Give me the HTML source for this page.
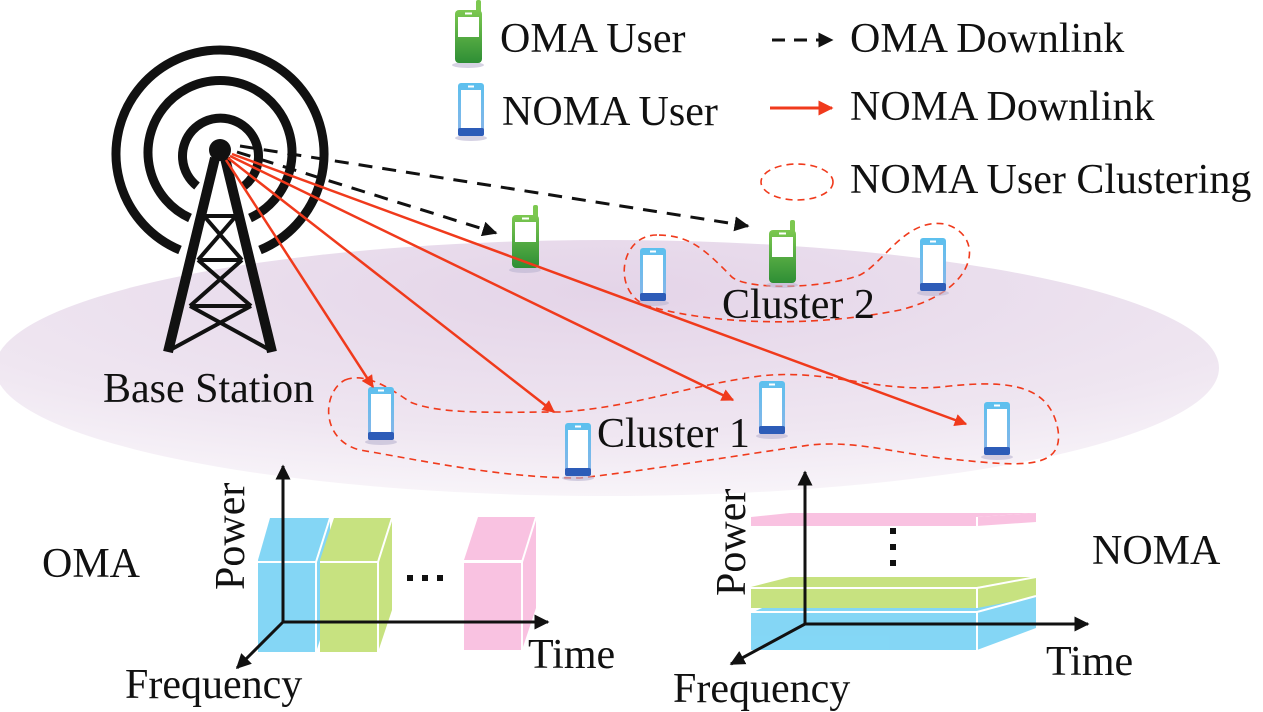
<!DOCTYPE html>
<html><head><meta charset="utf-8"><style>
html,body{margin:0;padding:0;background:#fff;}
svg{display:block;}
text{font-family:"Liberation Serif",serif;fill:#111;}
</style></head><body>
<svg width="1263" height="712" viewBox="0 0 1263 712" xmlns="http://www.w3.org/2000/svg">
<defs>
<radialGradient id="ell" cx="0.5" cy="0.2" r="0.8">
<stop offset="0" stop-color="#e4d4e8"/><stop offset="0.7" stop-color="#efe6f1"/><stop offset="1" stop-color="#f8f4f9"/>
</radialGradient>
<linearGradient id="gph" x1="0" y1="0" x2="0" y2="1"><stop offset="0" stop-color="#7cc850"/><stop offset="1" stop-color="#2e8e35"/></linearGradient>
<linearGradient id="bph" x1="0" y1="0" x2="0" y2="1"><stop offset="0" stop-color="#5cc0ee"/><stop offset="1" stop-color="#8ab4e8"/></linearGradient>
<g id="blue">
<ellipse cx="13" cy="55" rx="16" ry="3" fill="#bbb4d0" opacity="0.6"/>
<rect x="0" y="0" width="26" height="53" rx="3" fill="url(#bph)"/>
<rect x="3" y="7" width="20" height="38" fill="#fff"/>
<rect x="0" y="45" width="26" height="8" rx="2" fill="#2d5cb8"/>
<rect x="10" y="2.5" width="6" height="2" fill="#fff"/>
</g>
<g id="green">
<ellipse cx="13" cy="55" rx="16" ry="3" fill="#bbb4d0" opacity="0.6"/>
<rect x="21" y="-10" width="5" height="14" rx="2" fill="#7cc850"/>
<rect x="0" y="0" width="27" height="53" rx="4" fill="url(#gph)"/>
<rect x="3" y="7" width="21" height="20" fill="#fff"/>
<rect x="10" y="2.5" width="7" height="2" fill="#fff"/>
</g>
<marker id="ra" viewBox="0 0 10 10" refX="9" refY="5" markerWidth="5" markerHeight="5" orient="auto"><path d="M0,0L10,5L0,10z" fill="#f03a1c"/></marker>
<marker id="ka" viewBox="0 0 10 10" refX="9" refY="5" markerWidth="5" markerHeight="5" orient="auto"><path d="M0,0L10,5L0,10z" fill="#111"/></marker>
<marker id="ax" viewBox="0 0 10 10" refX="9" refY="5" markerWidth="5" markerHeight="5" orient="auto"><path d="M0,0L10,5L0,10z" fill="#111"/></marker>
</defs>

<ellipse cx="607" cy="368" rx="612" ry="128" fill="url(#ell)"/>

<!-- tower -->
<g fill="none" stroke="#111" stroke-width="9">
<path d="M197,186 A38,38 0 1 1 244,186"/>
<path d="M190,218 A72,72 0 1 1 250,218"/>
<path d="M180,250 A104,104 0 1 1 260,250"/>
</g>
<circle cx="220" cy="150" r="11" fill="#111"/>
<g stroke="#111" fill="none">
<path d="M215,158 L168,352 M225,158 L272,352" stroke-width="10"/>
<path d="M204,216H236 M198,260H242 M190,306H251 M204,216L242,260 M236,216L198,260 M198,260L251,306 M242,260L190,306 M190,306L270,350 M251,306L170,350" stroke-width="4"/>
</g>

<!-- dashed black -->
<g stroke="#111" stroke-width="3" stroke-dasharray="14,10" fill="none">
<line x1="237" y1="152" x2="496" y2="233" marker-end="url(#ka)"/>
<line x1="240" y1="146" x2="748" y2="226" marker-end="url(#ka)"/>
</g>

<!-- clusters -->
<g fill="none" stroke="#f03a1c" stroke-width="1.6" stroke-dasharray="7,5">
<path d="M657,235 C620,235 612,290 645,305 C700,322 800,330 900,310 C980,290 985,235 945,224 C905,218 885,262 860,275 C820,290 740,290 730,275 C705,250 690,235 657,235 Z"/>
<path d="M345,380 C365,372 390,388 410,402 C440,415 500,412 560,412 C630,408 690,385 760,376 C830,368 880,395 950,386 C1010,380 1050,385 1058,430 C1064,470 1020,466 960,460 C900,455 860,440 810,445 C740,455 650,470 580,478 C500,478 420,460 360,450 C320,440 322,392 345,380 Z"/>
</g>

<!-- phones -->
<use href="#green" x="455" y="10"/>
<use href="#blue" x="458" y="83"/>
<use href="#green" x="512" y="215"/>
<use href="#green" x="769" y="230"/>
<use href="#blue" x="640" y="248"/>
<use href="#blue" x="920" y="238"/>
<use href="#blue" x="368" y="387"/>
<use href="#blue" x="565" y="423"/>
<use href="#blue" x="759" y="381"/>
<use href="#blue" x="984" y="402"/>

<!-- red arrows -->
<g stroke="#f03a1c" stroke-width="2.5" fill="none" marker-end="url(#ra)">
<line x1="226" y1="160" x2="373" y2="387"/>
<line x1="228" y1="158" x2="554" y2="412"/>
<line x1="230" y1="156" x2="733" y2="400"/>
<line x1="232" y1="154" x2="966" y2="424"/>
</g>

<!-- legend -->
<line x1="772" y1="40" x2="832" y2="40" stroke="#111" stroke-width="3" stroke-dasharray="13,9" marker-end="url(#ka)"/>
<line x1="770" y1="108" x2="832" y2="108" stroke="#f03a1c" stroke-width="3" marker-end="url(#ra)"/>
<ellipse cx="797" cy="182" rx="36" ry="18" fill="none" stroke="#f03a1c" stroke-width="1.6" stroke-dasharray="7,5"/>
<g font-size="42">
<text x="500" y="52">OMA User</text>
<text x="502" y="125">NOMA User</text>
<text x="850" y="52">OMA Downlink</text>
<text x="850" y="120">NOMA Downlink</text>
<text x="850" y="193">NOMA User Clustering</text>
<text x="103" y="402">Base Station</text>
<text x="722" y="318">Cluster 2</text>
<text x="597" y="447">Cluster 1</text>
</g>

<!-- OMA chart -->
<g opacity="0.85">
<path d="M258,560 L270,518 L330,518 L316,560Z" fill="#6fd0f4"/>
<path d="M258,560 H316 V652 H258Z" fill="#6fd0f4"/>
<path d="M316,560 L330,518 V610 L316,652Z" fill="#6fd0f4"/>
<path d="M320,560 L334,518 L392,518 L378,560Z" fill="#bedd6a"/>
<path d="M320,560 H378 V652 H320Z" fill="#bedd6a"/>
<path d="M378,560 L392,518 V610 L378,652Z" fill="#bedd6a"/>
<path d="M464,560 L478,517 L536,517 L522,560Z" fill="#f9b8dc"/>
<path d="M464,563 H522 V650 H464Z" fill="#f9b8dc"/>
<path d="M522,560 L536,517 V608 L522,650Z" fill="#f9b8dc"/>
</g>
<g stroke="#fff" stroke-width="2" fill="none">
<path d="M258,562 H316 L330,518 M316,562 V652 M320,562 H378 L392,518 M378,562 V652 M464,562 H522 L536,517 M522,562 V650"/>
</g>
<g stroke="#111" stroke-width="3" fill="none" marker-end="url(#ax)">
<line x1="283" y1="622" x2="283" y2="466"/>
<line x1="283" y1="622" x2="548" y2="622"/>
<line x1="283" y1="622" x2="237" y2="668"/>
</g>
<rect x="407" y="575" width="6" height="6" fill="#111"/>
<rect x="422" y="575" width="6" height="6" fill="#111"/>
<rect x="437" y="575" width="6" height="6" fill="#111"/>
<g font-size="42">
<text x="42" y="577">OMA</text>
<text x="528" y="668">Time</text>
<text x="125" y="698">Frequency</text>
<text transform="translate(244,590) rotate(-90)">Power</text>
</g>

<!-- NOMA chart -->
<g opacity="0.85">
<path d="M751,613 L780,600 H1036 L977,613Z" fill="#6fd0f4"/>
<path d="M751,613 H977 V650 H751Z" fill="#6fd0f4"/>
<path d="M977,613 L1036,596 V628 L977,650Z" fill="#6fd0f4"/>
<path d="M751,587 L790,577 H1036 L977,587Z" fill="#bedd6a"/>
<path d="M751,587 H977 V608 H751Z" fill="#bedd6a"/>
<path d="M977,587 L1036,577 V597 L977,608Z" fill="#bedd6a"/>
<path d="M751,517 L790,513 H1036 L977,517Z" fill="#f9b8dc"/>
<path d="M751,517 H977 V526 H751Z" fill="#f9b8dc"/>
<path d="M977,517 L1036,513 V522 L977,526Z" fill="#f9b8dc"/>
</g>
<g stroke="#fff" stroke-width="2" fill="none">
<path d="M751,612 H977 L1036,596 M977,612 V650 M751,588 H977 L1036,577 M977,588 V608 M977,517 V526"/>
</g>
<g stroke="#111" stroke-width="3" fill="none" marker-end="url(#ax)">
<line x1="805" y1="624" x2="805" y2="472"/>
<line x1="805" y1="624" x2="1088" y2="624"/>
<line x1="805" y1="624" x2="731" y2="664"/>
</g>
<rect x="890" y="528" width="6" height="6" fill="#111"/>
<rect x="890" y="544" width="6" height="6" fill="#111"/>
<rect x="890" y="560" width="6" height="6" fill="#111"/>
<g font-size="42">
<text x="1092" y="564">NOMA</text>
<text x="1046" y="675">Time</text>
<text x="673" y="702">Frequency</text>
<text transform="translate(745,596) rotate(-90)">Power</text>
</g>
</svg>
</body></html>
